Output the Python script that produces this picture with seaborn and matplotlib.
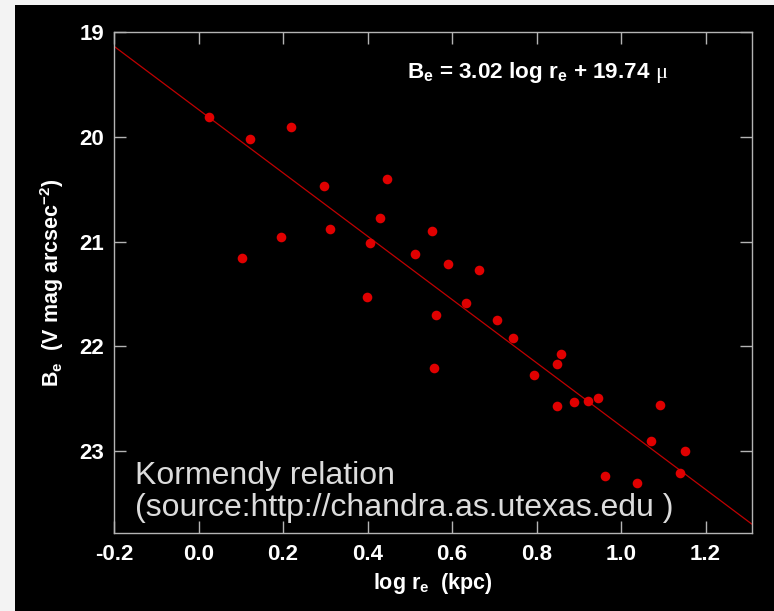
import numpy as np
import seaborn as sns
import matplotlib.pyplot as plt
import pandas as pd
from matplotlib.patches import Rectangle

# Kormendy relation data
log_re = [0.025, 0.123, 0.218, 0.104, 0.196, 0.298, 0.312, 0.406, 0.430, 0.446,
          0.399, 0.512, 0.553, 0.591, 0.664, 0.632, 0.562, 0.707, 0.745, 0.558,
          0.858, 0.848, 0.793, 0.848, 0.889, 0.922, 0.945, 1.092, 1.070, 1.152,
          1.140, 0.962, 1.039]
B_e = [19.81, 20.02, 19.91, 21.16, 20.96, 20.47, 20.88, 21.01, 20.77, 20.40,
       21.53, 21.12, 20.90, 21.21, 21.27, 21.59, 21.70, 21.75, 21.92, 22.21,
       22.07, 22.17, 22.27, 22.57, 22.53, 22.52, 22.49, 22.56, 22.90, 23.00,
       23.21, 23.24, 23.30]
fit_slope = 3.02
fit_intercept = 19.74
x_ticks = [-0.2, 0.0, 0.2, 0.4, 0.6, 0.8, 1.0, 1.2]
y_ticks = [19, 20, 21, 22, 23]

df = pd.DataFrame({'log_re': log_re, 'B_e': B_e})

sns.set_theme(style="ticks")
plt.rcParams['font.family'] = ['Liberation Sans', 'DejaVu Sans']
plt.rcParams['mathtext.fontset'] = 'custom'
plt.rcParams['mathtext.rm'] = 'Liberation Serif'
plt.rcParams['mathtext.bf'] = 'Liberation Sans:bold'
plt.rcParams['mathtext.it'] = 'Liberation Sans:italic'

fig = plt.figure(figsize=(7.74, 6.11), dpi=100, facecolor='black')
# light strip on the left/top edge of the slide
fig.patches.append(Rectangle((0, 0), 15 / 774, 1, transform=fig.transFigure,
                             facecolor='#f3f3f3', edgecolor='none', zorder=-1))
fig.patches.append(Rectangle((0, 1 - 5 / 611), 1, 5 / 611, transform=fig.transFigure,
                             facecolor='#f3f3f3', edgecolor='none', zorder=-1))

ax = fig.add_axes([114 / 774, 1 - 533 / 611, (752 - 114) / 774, (533 - 32) / 611])
ax.set_facecolor('black')

sns.scatterplot(data=df, x='log_re', y='B_e', ax=ax, color='#e00000', s=48,
                linewidth=0, zorder=3)
ax.axline((0, fit_intercept), slope=fit_slope, color='#c00000', lw=0.9, zorder=2)

ax.set_xlim(-0.2, 1.31)
ax.set_ylim(23.78, 19)
ax.set_xticks(x_ticks)
ax.set_xticklabels([f'{t:.1f}' for t in x_ticks])
ax.set_yticks(y_ticks)

for s in ax.spines.values():
    s.set_color('#b4b4b4')
    s.set_linewidth(1.0)
ax.tick_params(direction='in', length=8.5, width=1.0, color='#b4b4b4',
               top=True, right=True, labelcolor='white', labelsize=16)
ax.tick_params(axis='x', pad=8)
ax.tick_params(axis='y', pad=7)
for lab in ax.get_xticklabels() + ax.get_yticklabels():
    lab.set_fontweight('bold')

ax.set_xlabel(r'log r$_\mathbf{e}$  (kpc)', color='white', fontsize=15.5,
              fontweight='bold', labelpad=4)
ax.set_ylabel(r'B$_\mathbf{e}$  (V mag arcsec$^{\mathbf{-2}}$)', color='white',
              fontsize=15.5, fontweight='bold', labelpad=10)

ax.text(0.46, 0.92,
        rf'B$_\mathbf{{e}}$ = {fit_slope:.2f} log r$_\mathbf{{e}}$ + {fit_intercept:.2f} $\mathrm{{\mu}}$',
        transform=ax.transAxes, color='white', fontsize=16.2, fontweight='bold',
        ha='left', va='center')

ax.text(0.033, 0.02, 'Kormendy relation\n(source:http://chandra.as.utexas.edu )',
        transform=ax.transAxes, color='#dcdcdc', fontsize=23,
        ha='left', va='bottom', linespacing=1.08)

fig.savefig('out.png', dpi=100, facecolor=fig.get_facecolor())
